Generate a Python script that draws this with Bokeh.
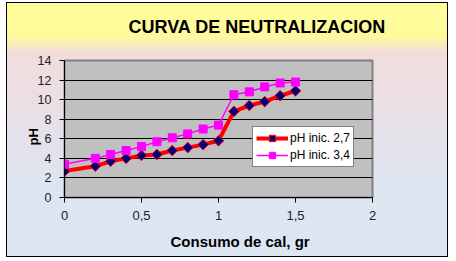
from bokeh.plotting import figure
from bokeh.models import Title, Legend, LegendItem, FixedTicker, Range1d
from bokeh.embed import file_html
from bokeh.resources import INLINE
import math

# Data
x_vals = [0, 0.2, 0.3, 0.4, 0.5, 0.6, 0.7, 0.8, 0.9, 1.0, 1.1, 1.2, 1.3, 1.4, 1.5]
ph_27 = [2.7, 3.2, 3.7, 4.0, 4.3, 4.4, 4.8, 5.1, 5.4, 5.8, 8.8, 9.4, 9.8, 10.4, 10.9]
ph_34 = [3.4, 4.0, 4.4, 4.8, 5.2, 5.7, 6.1, 6.5, 7.0, 7.4, 10.5, 10.8, 11.3, 11.7, 11.8]
series_names = ["pH inic. 2,7", "pH inic. 3,4"]
x_ticks = [0, 0.5, 1, 1.5, 2]
x_tick_labels = ["0", "0,5", "1", "1,5", "2"]
y_ticks = [0, 2, 4, 6, 8, 10, 12, 14]
title_text = "CURVA DE NEUTRALIZACION"
x_label = "Consumo de cal, gr"
y_label = "pH"

FONT = "Liberation Sans"

p = figure(
    width=442, height=267,
    output_backend="svg", toolbar_location=None,
    x_range=Range1d(0, 2), y_range=Range1d(0, 14),
    min_border_left=58, min_border_right=76, min_border_top=70, min_border_bottom=60,
    styles={
        "margin-left": "6px",
        "margin-top": "-10px",
        "background": "linear-gradient(to bottom, #FFFF99 0px, #FFFF99 12px, #FEFA9C 46px, #F2DCDB 63px, #EADFE5 112px, #DDE5F1 197px, #DCE6F2 267px)",
        "box-shadow": "inset 0 12px 0 0 #FFFFFF, inset 0 13px 0 0 #000000, inset 0 0 0 1px #000000",
    },
)
p.border_fill_alpha = 0
p.background_fill_color = "#C0C0C0"
p.outline_line_color = "#808080"
p.outline_line_width = 2

# grid
p.xgrid.visible = False
p.ygrid.ticker = FixedTicker(ticks=y_ticks)
p.ygrid.grid_line_color = "#000000"
p.ygrid.grid_line_width = 1

# axes
p.xaxis.ticker = FixedTicker(ticks=x_ticks)
p.xaxis.major_label_overrides = {t: l for t, l in zip(x_ticks, x_tick_labels)}
p.yaxis.ticker = FixedTicker(ticks=y_ticks)
for ax in (p.xaxis[0], p.yaxis[0]):
    ax.axis_line_color = "#000000"
    ax.major_tick_line_color = "#000000"
    ax.major_tick_out = 5
    ax.major_tick_in = 0
    ax.minor_tick_line_color = None
    ax.major_label_text_font = FONT
    ax.major_label_text_color = "#222222"
    ax.major_label_standoff = 8
p.xaxis.major_label_text_font_size = "13px"
p.yaxis.major_label_text_font_size = "12.5px"

# series
r1l = p.line(x_vals, ph_27, line_color="#FF0000", line_width=4)
r1m = p.scatter(x_vals, ph_27, marker="square", size=7.5, angle=math.pi / 4,
                fill_color="#000080", line_color="#FF0000", line_width=1)
r2l = p.line(x_vals, ph_34, line_color="#FF00FF", line_width=1.5)
r2m = p.scatter(x_vals, ph_34, marker="square", size=8,
                fill_color="#FF00FF", line_color="#FF00FF")

legend = Legend(
    items=[LegendItem(label=series_names[0], renderers=[r1l, r1m]),
           LegendItem(label=series_names[1], renderers=[r2l, r2m])],
    location=(188, 30),
    background_fill_color="#FFFFFF", background_fill_alpha=1,
    border_line_color="#000000", border_line_width=1,
    label_text_font=FONT, label_text_font_size="12px", label_text_color="#000000",
    padding=3, spacing=1, margin=0, glyph_width=32, glyph_height=16,
    label_height=16, label_standoff=2,
)
p.add_layout(legend)

# texts
p.add_layout(Title(text=title_text, align="left", offset=64, standoff=48,
                   text_font=FONT, text_font_size="18px", text_font_style="bold",
                   text_color="#000000"), "above")
p.add_layout(Title(text=x_label, align="left", offset=106, standoff=16,
                   text_font=FONT, text_font_size="15px", text_font_style="bold",
                   text_color="#000000"), "below")
p.add_layout(Title(text=y_label, align="left", offset=52, standoff=-13,
                   text_font=FONT, text_font_size="13px", text_font_style="bold",
                   text_color="#000000"), "left")

open("out.html", "w").write(file_html(p, INLINE))
